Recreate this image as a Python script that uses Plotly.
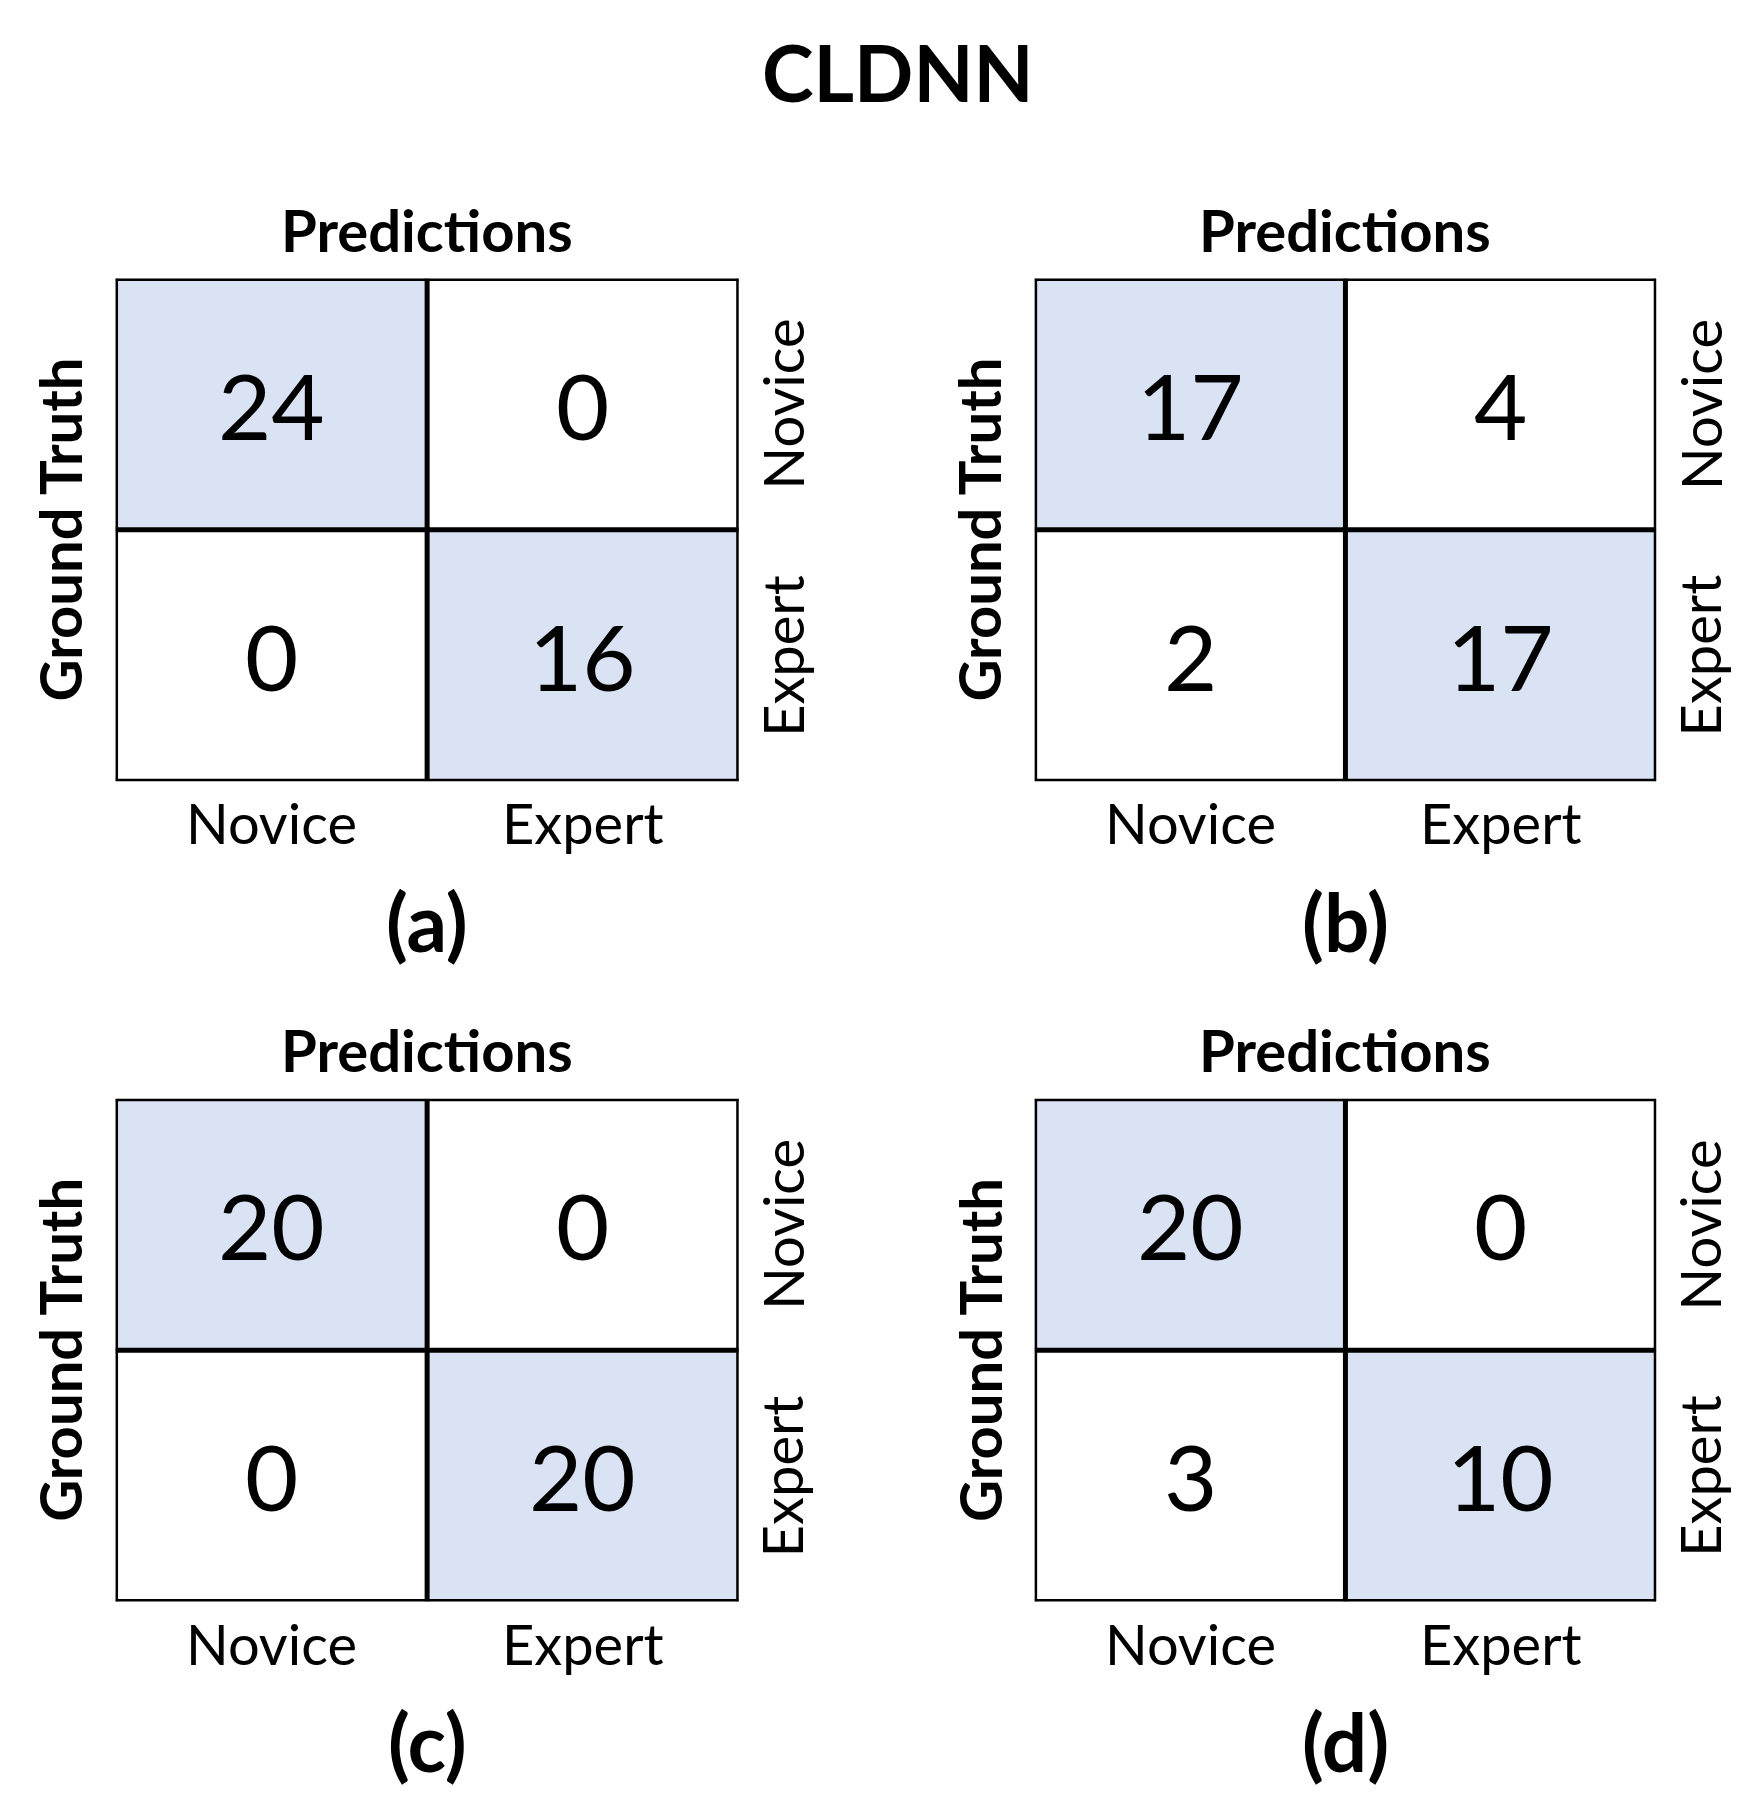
import plotly.graph_objects as go

title = "CLDNN"
classes = ["Novice", "Expert"]
panel_labels = ["(a)", "(b)", "(c)", "(d)"]
cm_a = [[24, 0], [0, 16]]
cm_b = [[17, 4], [2, 17]]
cm_c = [[20, 0], [0, 20]]
cm_d = [[20, 0], [3, 10]]
matrices = [cm_a, cm_b, cm_c, cm_d]

FONT = "Lato"
diag = [[1, 0], [0, 1]]
xdoms = [[0.0616, 0.4185], [0.588, 0.944]]
ydoms = [[0.574, 0.851], [0.122, 0.399]]


def note(**kw):
    fig.add_annotation(showarrow=False, xanchor="center", yanchor="middle", **kw)


fig = go.Figure()
for i, cm in enumerate(matrices):
    r, c = divmod(i, 2)
    n = str(i + 1)
    xa, ya = "x" + n, "y" + n
    fig.add_trace(go.Heatmap(z=diag, x=[0, 1], y=[0, 1], xaxis=xa, yaxis=ya,
                             colorscale=[[0, "white"], [1, "#dae3f3"]], showscale=False))
    fig.update_layout({
        "xaxis" + n: dict(domain=xdoms[c], range=[-0.5, 1.5], showticklabels=False,
                          showgrid=False, zeroline=False, fixedrange=True),
        "yaxis" + n: dict(domain=ydoms[r], range=[1.5, -0.5], showticklabels=False,
                          showgrid=False, zeroline=False, fixedrange=True),
    })
    for yy in range(2):
        for xx in range(2):
            note(x=xx, y=yy, xref=xa, yref=ya, text=str(cm[yy][xx]),
                 font=dict(size=92, color="black"))
    for k in [-0.5, 0.5, 1.5]:
        fig.add_shape(type="line", xref=xa, yref=ya, x0=k, x1=k, y0=-0.5, y1=1.5,
                      line=dict(color="black", width=5))
        fig.add_shape(type="line", xref=xa, yref=ya, x0=-0.5, x1=1.5, y0=k, y1=k,
                      line=dict(color="black", width=5))
    x0, x1 = xdoms[c]
    y0, y1 = ydoms[r]
    xm = (x0 + x1) / 2
    note(x=xm, y=y1 + 0.027, xref="paper", yref="paper", text="<b>Predictions</b>",
         font=dict(size=58))
    for k, name in enumerate(classes):
        note(x=k, y=y0 - 0.023, xref=xa, yref="paper", text=name, font=dict(size=56))
        note(x=x1 + 0.025, y=k, xref="paper", yref=ya, text=name, textangle=-90,
             font=dict(size=56))
    note(x=x0 - 0.032, y=(y0 + y1) / 2, xref="paper", yref="paper",
         text="<b>Ground Truth</b>", textangle=-90, font=dict(size=58))
    note(x=xm, y=y0 - 0.077, xref="paper", yref="paper",
         text="<b>" + panel_labels[i] + "</b>", font=dict(size=80))

note(x=0.51, y=0.965, xref="paper", yref="paper", text="<b>" + title + "</b>",
     font=dict(size=78))
fig.update_layout(width=1746, height=1815, margin=dict(l=0, r=0, t=0, b=0),
                  plot_bgcolor="white", paper_bgcolor="white",
                  font=dict(family=FONT, color="black"))
fig.write_html("out.html")
